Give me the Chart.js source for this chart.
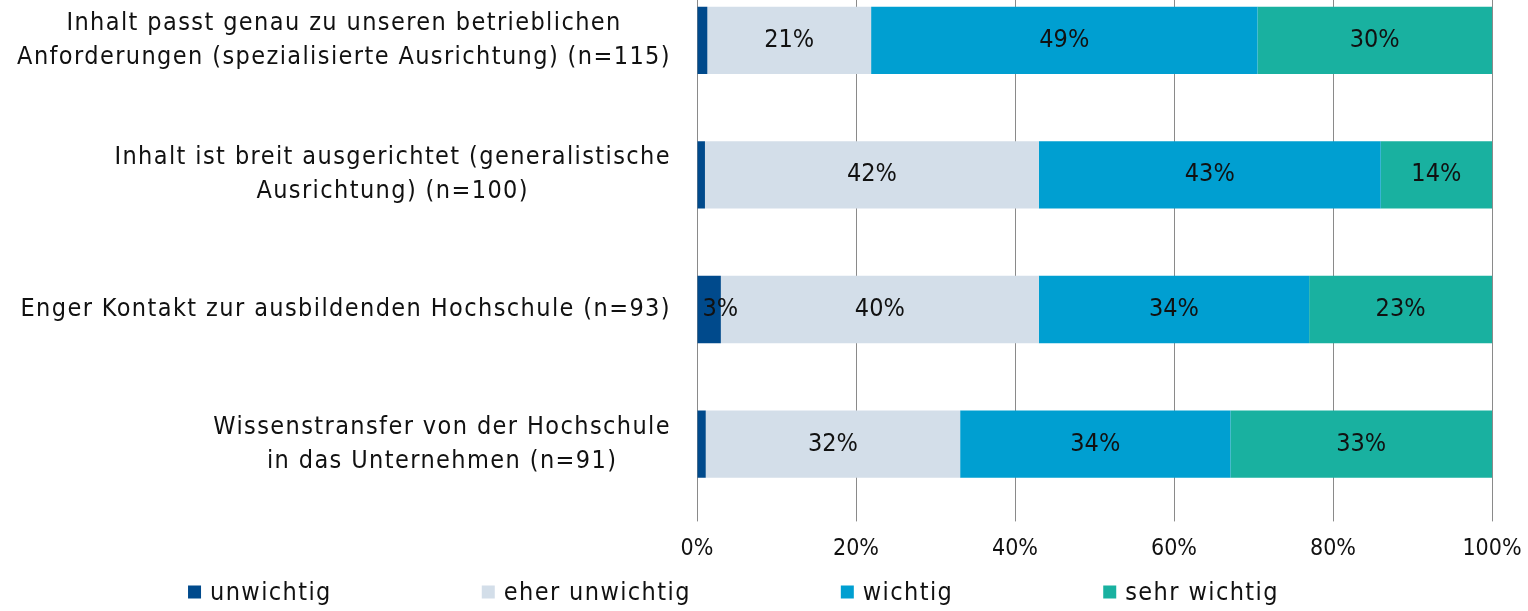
<!DOCTYPE html>
<html>
<head>
<meta charset="utf-8">
<script src="https://cdn.jsdelivr.net/npm/chart.js@4/dist/chart.umd.min.js"></script>
<style>
html, body { margin: 0; padding: 0; background: #fff; overflow: hidden; }
#wrap { position: absolute; left: 0; top: -27px; width: 1528px; height: 638px; }
</style>
</head>
<body>
<div id="wrap"><canvas id="chart"></canvas></div>
<script>
// categories (one array per label, one string per line)
const categories = [
    ['Inhalt passt genau zu unseren betrieblichen', 'Anforderungen (spezialisierte Ausrichtung) (n=115)'],
    ['Inhalt ist breit ausgerichtet (generalistische', 'Ausrichtung) (n=100)'],
    ['Enger Kontakt zur ausbildenden Hochschule (n=93)'],
    ['Wissenstransfer von der Hochschule', 'in das Unternehmen (n=91)']
];
const seriesNames = ['unwichtig', 'eher unwichtig', 'wichtig', 'sehr wichtig'];
const seriesColors = ['#004a8c', '#d3dee9', '#009fd1', '#19b1a0'];

// Anteile in %
const unwichtig     = [1.3, 1.0, 3.0, 1.1];
const eherUnwichtig = [20.6, 42.0, 40.0, 32.0];
const wichtig       = [48.6, 43.0, 34.0, 34.0];
const sehrWichtig   = [29.5, 14.0, 23.0, 32.9];

const xMin = 0, xMax = 100, xStep = 20;

const FONT = '"DejaVu Sans Condensed", "DejaVu Sans", sans-serif';
const FONT_SIZE = 25;
const TICK_SIZE = 23;
const SPACING = '1.4px';

// y labels: block right aligned, lines centered within the block
const yLabelPlugin = {
    id: 'yLabels',
    afterDraw(chart) {
        const ctx = chart.ctx;
        const yScale = chart.scales.y;
        const right = chart.chartArea.left - 26;
        const lineH = 34;
        ctx.save();
        ctx.font = FONT_SIZE + 'px ' + FONT;
        ctx.letterSpacing = SPACING;
        ctx.fillStyle = '#111';
        ctx.textAlign = 'center';
        ctx.textBaseline = 'middle';
        categories.forEach(function(lines, i) {
            const w = Math.max.apply(null, lines.map(l => ctx.measureText(l).width));
            const cx = right - w / 2;
            const cy = yScale.getPixelForValue(i);
            lines.forEach(function(l, j) {
                ctx.fillText(l, cx, cy + (j - (lines.length - 1) / 2) * lineH);
            });
        });
        ctx.restore();
    }
};

// percent labels inside the bars
const barLabelPlugin = {
    id: 'barLabels',
    afterDatasetsDraw(chart) {
        const ctx = chart.ctx;
        ctx.save();
        ctx.font = FONT_SIZE + 'px ' + FONT;
        ctx.fillStyle = '#111';
        ctx.textBaseline = 'middle';
        chart.data.datasets.forEach(function(ds, di) {
            const meta = chart.getDatasetMeta(di);
            meta.data.forEach(function(bar, i) {
                const v = ds.data[i];
                if (v < 2) return;
                const p = bar.getProps(['x', 'y', 'base'], true);
                const txt = Math.round(v) + '%';
                const tw = ctx.measureText(txt).width;
                if (tw > Math.abs(p.x - p.base)) {
                    ctx.textAlign = 'left';
                    ctx.fillText(txt, Math.min(p.x, p.base) + 5, p.y);
                } else {
                    ctx.textAlign = 'center';
                    ctx.fillText(txt, (p.x + p.base) / 2, p.y);
                }
            });
        });
        ctx.restore();
    }
};

// legend with wide spacing like the original
const legendPlugin = {
    id: 'wideLegend',
    afterDraw(chart) {
        const ctx = chart.ctx;
        const box = 13, gapText = 9, gapItem = 150;
        ctx.save();
        ctx.font = FONT_SIZE + 'px ' + FONT;
        ctx.letterSpacing = SPACING;
        ctx.textBaseline = 'middle';
        ctx.textAlign = 'left';
        const ds = chart.data.datasets;
        const widths = ds.map(d => box + gapText + ctx.measureText(d.label).width);
        const total = widths.reduce((a, b) => a + b, 0) + gapItem * (widths.length - 1);
        let x = chart.width * 0.48 - total / 2;
        const y = chart.height - 19;
        ds.forEach(function(d, i) {
            ctx.fillStyle = d.backgroundColor;
            ctx.fillRect(x, y - box / 2, box, box);
            ctx.fillStyle = '#111';
            ctx.fillText(d.label, x + box + gapText, y + 1);
            x += widths[i] + gapItem;
        });
        ctx.restore();
    }
};

const seriesData = [unwichtig, eherUnwichtig, wichtig, sehrWichtig];

new Chart(document.getElementById('chart'), {
    type: 'bar',
    data: {
        labels: categories.map(c => c.join(' ')),
        datasets: seriesNames.map(function(name, i) {
            return {
                label: name,
                data: seriesData[i],
                backgroundColor: seriesColors[i],
                borderWidth: 0,
                categoryPercentage: 0.5,
                barPercentage: 1
            };
        })
    },
    options: {
        indexAxis: 'y',
        responsive: true,
        maintainAspectRatio: false,
        animation: false,
        layout: { padding: { top: 0, right: 36, bottom: 34, left: 0 } },
        scales: {
            x: {
                stacked: true,
                min: xMin,
                max: xMax,
                ticks: {
                    stepSize: xStep,
                    padding: 14,
                    color: '#111',
                    font: { family: FONT, size: TICK_SIZE },
                    callback: v => v + '%'
                },
                grid: { color: '#8a8a8a', lineWidth: 1, tickLength: 10 },
                border: { display: false },
                afterFit: function(s) { s.paddingLeft = 0; s.paddingRight = 0; }
            },
            y: {
                stacked: true,
                offset: true,
                grid: { display: false },
                border: { display: false },
                ticks: { display: false },
                afterFit: function(s) { s.width = 697; }
            }
        },
        plugins: {
            legend: { display: false },
            tooltip: { enabled: false }
        }
    },
    plugins: [yLabelPlugin, barLabelPlugin, legendPlugin]
});
</script>
</body>
</html>
